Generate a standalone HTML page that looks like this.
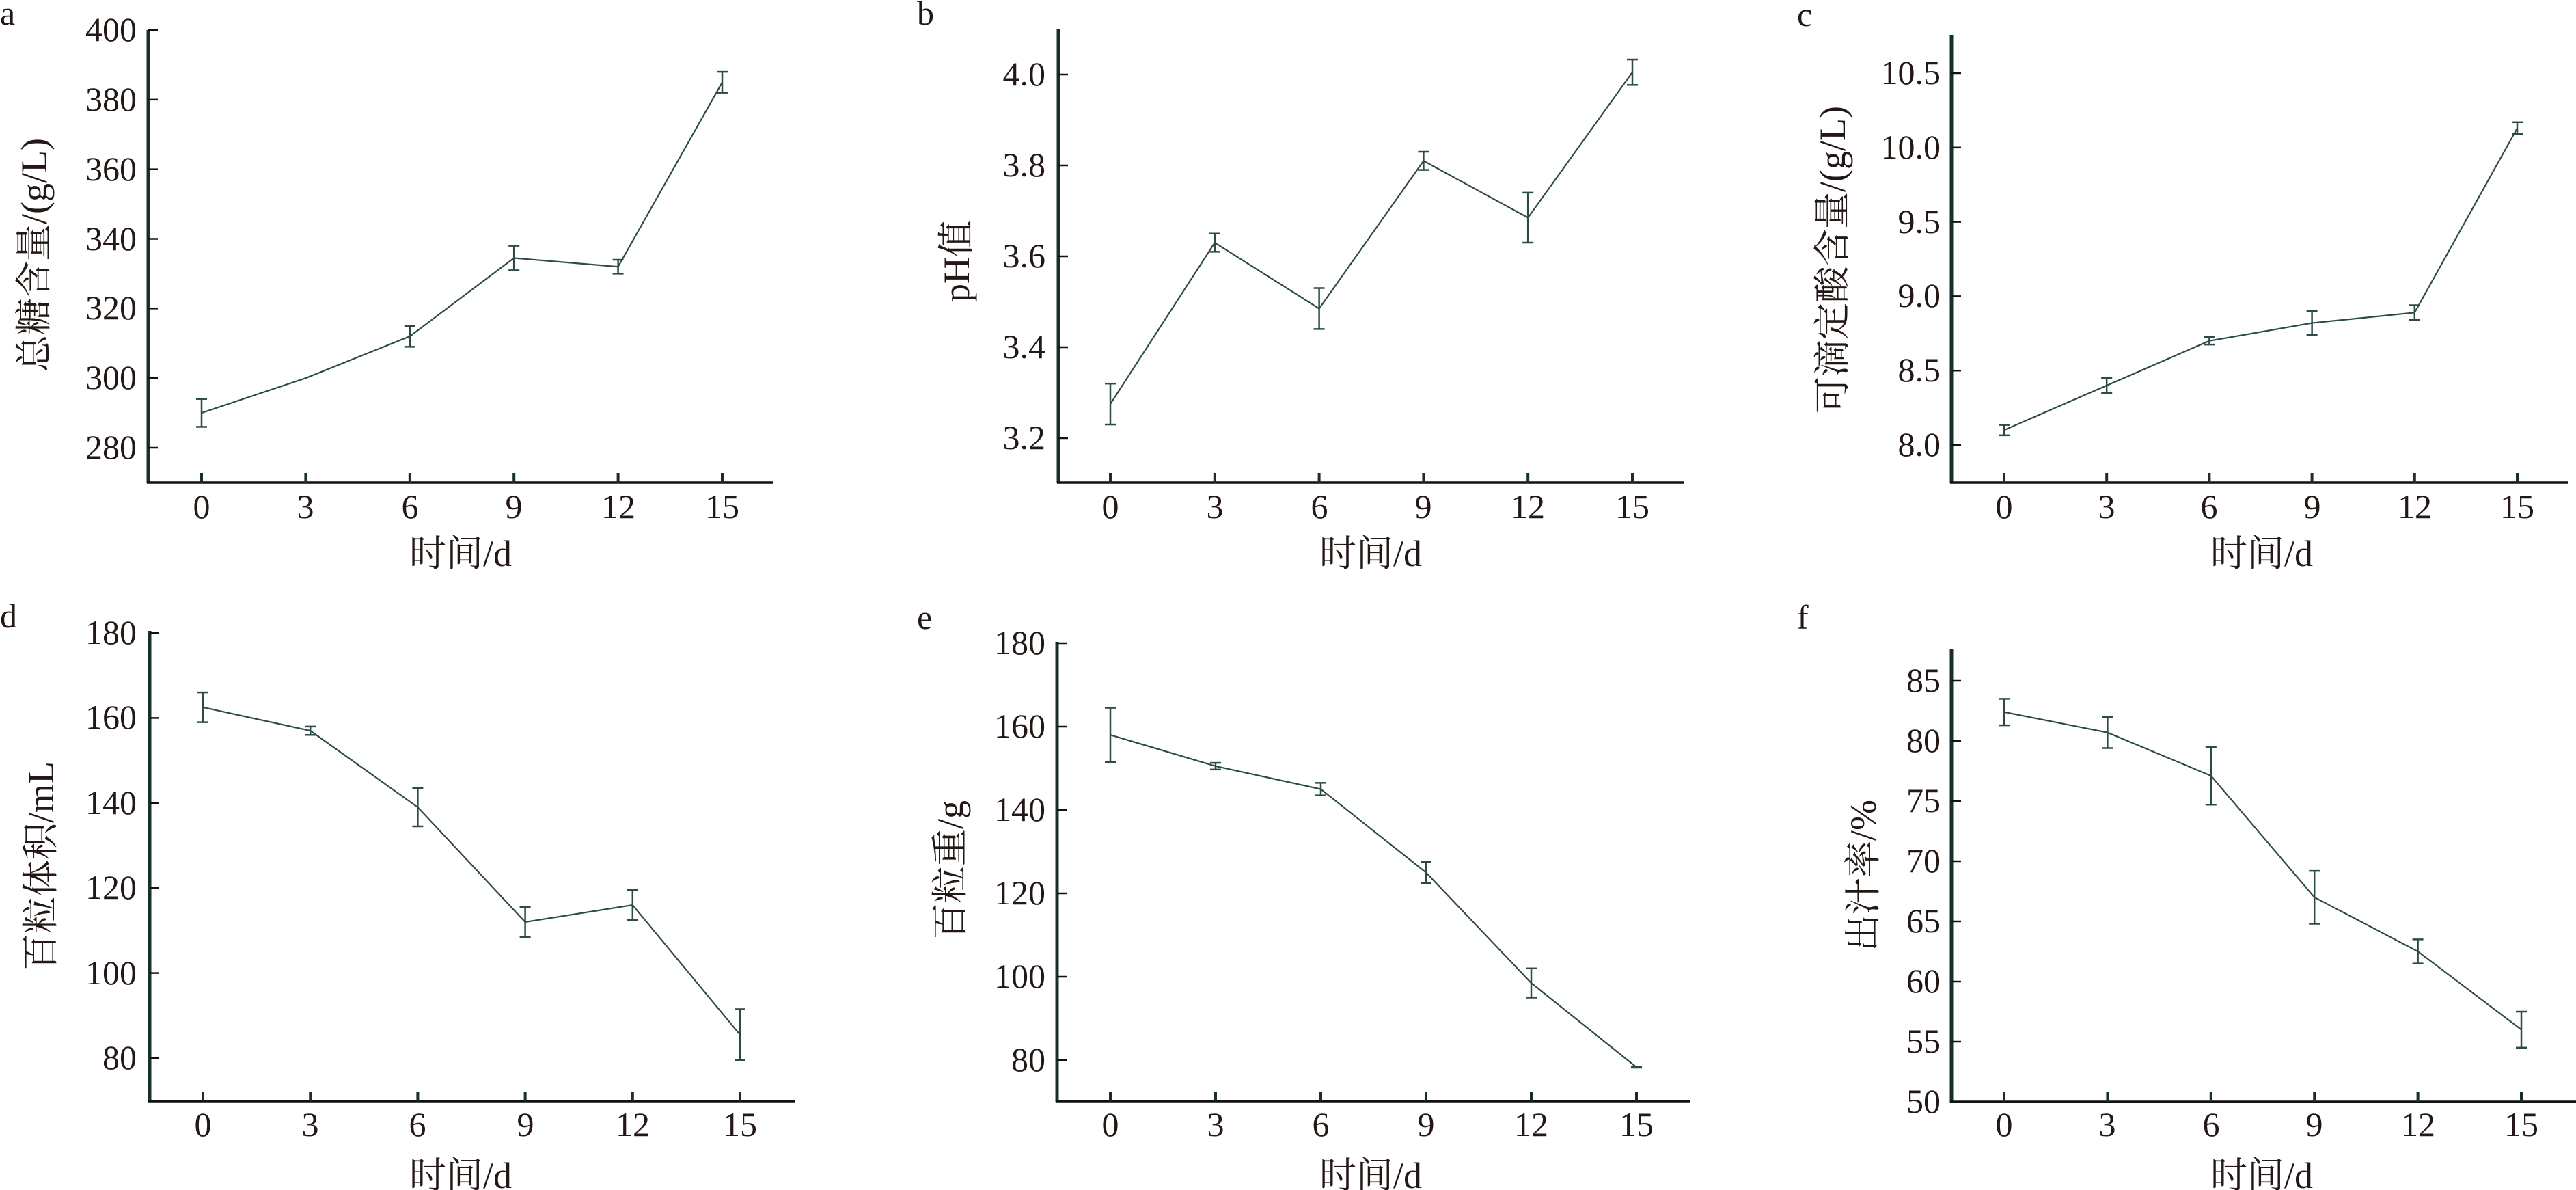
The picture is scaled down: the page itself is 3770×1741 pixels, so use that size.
<!DOCTYPE html>
<html><head><meta charset="utf-8"><style>
html,body{margin:0;padding:0;background:#fff;}
svg{display:block;}
text{font-family:"Liberation Serif","Noto Serif CJK SC",serif;fill:#231815;}
.t{font-size:50px;}
.tl{font-size:50px;text-anchor:end;}
.tx{font-size:50px;text-anchor:middle;}
.lab{font-size:54px;text-anchor:middle;}
.pl{font-size:50px;}
</style></head><body>
<svg id="s" width="3770" height="1741" viewBox="0 0 3770 1741" xmlns="http://www.w3.org/2000/svg">
<g id="g"></g>
<!-- panel letters -->
<text class="pl" x="0" y="36">a</text>
<text class="pl" x="1342" y="36">b</text>
<text class="pl" x="2630" y="38">c</text>
<text class="pl" x="0" y="918">d</text>
<text class="pl" x="1342" y="920">e</text>
<text class="pl" x="2630" y="920">f</text>

<!-- a ticks -->
<text class="tl" x="200" y="60">400</text>
<text class="tl" x="200" y="162">380</text>
<text class="tl" x="200" y="264">360</text>
<text class="tl" x="200" y="366">340</text>
<text class="tl" x="200" y="467">320</text>
<text class="tl" x="200" y="569">300</text>
<text class="tl" x="200" y="671">280</text>
<text class="tx" x="295" y="758">0</text><text class="tx" x="447" y="758">3</text><text class="tx" x="600" y="758">6</text><text class="tx" x="752" y="758">9</text><text class="tx" x="905" y="758">12</text><text class="tx" x="1057" y="758">15</text>
<text class="lab" x="674" y="828">时间/d</text>
<text class="lab" transform="translate(68,373) rotate(-90)">总糖含量/(g/L)</text>

<!-- b ticks -->
<text class="tl" x="1530" y="125">4.0</text>
<text class="tl" x="1530" y="258">3.8</text>
<text class="tl" x="1530" y="391">3.6</text>
<text class="tl" x="1530" y="524">3.4</text>
<text class="tl" x="1530" y="657">3.2</text>
<text class="tx" x="1625" y="758">0</text><text class="tx" x="1778" y="758">3</text><text class="tx" x="1931" y="758">6</text><text class="tx" x="2083" y="758">9</text><text class="tx" x="2236" y="758">12</text><text class="tx" x="2389" y="758">15</text>
<text class="lab" x="2006" y="828">时间/d</text>
<text class="lab" transform="translate(1418,382) rotate(-90)">pH值</text>

<!-- c ticks -->
<text class="tl" x="2840" y="123">10.5</text>
<text class="tl" x="2840" y="232">10.0</text>
<text class="tl" x="2840" y="341">9.5</text>
<text class="tl" x="2840" y="449">9.0</text>
<text class="tl" x="2840" y="558">8.5</text>
<text class="tl" x="2840" y="667">8.0</text>
<text class="tx" x="2933" y="758">0</text><text class="tx" x="3083" y="758">3</text><text class="tx" x="3233" y="758">6</text><text class="tx" x="3384" y="758">9</text><text class="tx" x="3534" y="758">12</text><text class="tx" x="3684" y="758">15</text>
<text class="lab" x="3310" y="828">时间/d</text>
<text class="lab" transform="translate(2700,380) rotate(-90)">可滴定酸含量/(g/L)</text>

<!-- d ticks -->
<text class="tl" x="200" y="942">180</text>
<text class="tl" x="200" y="1066">160</text>
<text class="tl" x="200" y="1191">140</text>
<text class="tl" x="200" y="1315">120</text>
<text class="tl" x="200" y="1440">100</text>
<text class="tl" x="200" y="1564">80</text>
<text class="tx" x="297" y="1662">0</text><text class="tx" x="454" y="1662">3</text><text class="tx" x="611" y="1662">6</text><text class="tx" x="769" y="1662">9</text><text class="tx" x="926" y="1662">12</text><text class="tx" x="1083" y="1662">15</text>
<text class="lab" x="674" y="1738">时间/d</text>
<text class="lab" transform="translate(78,1267) rotate(-90)">百粒体积/mL</text>

<!-- e ticks -->
<text class="tl" x="1530" y="957">180</text>
<text class="tl" x="1530" y="1079">160</text>
<text class="tl" x="1530" y="1201">140</text>
<text class="tl" x="1530" y="1323">120</text>
<text class="tl" x="1530" y="1445">100</text>
<text class="tl" x="1530" y="1567">80</text>
<text class="tx" x="1625" y="1662">0</text><text class="tx" x="1779" y="1662">3</text><text class="tx" x="1933" y="1662">6</text><text class="tx" x="2087" y="1662">9</text><text class="tx" x="2241" y="1662">12</text><text class="tx" x="2395" y="1662">15</text>
<text class="lab" x="2006" y="1738">时间/d</text>
<text class="lab" transform="translate(1409,1273) rotate(-90)">百粒重/g</text>

<!-- f ticks -->
<text class="tl" x="2840" y="1012">85</text>
<text class="tl" x="2840" y="1100">80</text>
<text class="tl" x="2840" y="1188">75</text>
<text class="tl" x="2840" y="1276">70</text>
<text class="tl" x="2840" y="1364">65</text>
<text class="tl" x="2840" y="1452">60</text>
<text class="tl" x="2840" y="1540">55</text>
<text class="tl" x="2840" y="1628">50</text>
<text class="tx" x="2933" y="1662">0</text><text class="tx" x="3084" y="1662">3</text><text class="tx" x="3236" y="1662">6</text><text class="tx" x="3387" y="1662">9</text><text class="tx" x="3539" y="1662">12</text><text class="tx" x="3690" y="1662">15</text>
<text class="lab" x="3310" y="1738">时间/d</text>
<text class="lab" transform="translate(2745,1281) rotate(-90)">出汁率/%</text>
</svg>
<script>
var P=[
{ax:217,top:44,xa:706,right:1132,x0:295,x15:1057,v1:400,y1:44,v2:280,y2:655,ticks:[280,300,320,340,360,380,400],
 d:[[290,4],[300,0],[312,3],[334.5,3.5],[332,2],[385,3]]},
{ax:1549,top:42,xa:706,right:2464,x0:1625,x15:2389,v1:4.0,y1:109,v2:3.2,y2:641,ticks:[3.2,3.4,3.6,3.8,4.0],
 d:[[3.275,0.045],[3.63,0.02],[3.485,0.045],[3.81,0.02],[3.685,0.055],[4.005,0.028]]},
{ax:2856,top:51,xa:706,right:3759,x0:2933,x15:3684,v1:10.5,y1:107,v2:8.0,y2:651,ticks:[8,8.5,9,9.5,10,10.5],
 d:[[8.1,0.035],[8.4,0.05],[8.7,0.025],[8.82,0.08],[8.89,0.05],[10.13,0.04]]},
{ax:219,top:923,xa:1611,right:1164,x0:297,x15:1083,v1:180,y1:926,v2:80,y2:1548,ticks:[80,100,120,140,160,180],
 d:[[162.5,3.5],[157,1],[139,4.5],[112,3.5],[116,3.5],[85.5,6]]},
{ax:1547,top:939,xa:1611,right:2473,x0:1625,x15:2395,v1:180,y1:941,v2:80,y2:1551,ticks:[80,100,120,140,160,180],
 d:[[158,6.5],[150.5,0.8],[145,1.5],[125,2.5],[98.5,3.5],[78.3,0.1]]},
{ax:2856,top:950,xa:1612,right:3770,x0:2933,x15:3690,v1:85,y1:996,v2:50,y2:1612,ticks:[55,60,65,70,75,80,85],
 d:[[82.4,1.1],[80.7,1.3],[77.1,2.4],[67,2.2],[62.5,1],[56,1.5]]}
];
var ns="http://www.w3.org/2000/svg",g=document.getElementById("g");
function el(t,a){var e=document.createElementNS(ns,t);for(var k in a)e.setAttribute(k,a[k]);g.appendChild(e);return e;}
var LC="#2c4a48",AC="#17302e";
P.forEach(function(p){
 function Y(v){return p.y1+(v-p.v1)*(p.y2-p.y1)/(p.v2-p.v1);}
 function X(i){return p.x0+i*(p.x15-p.x0)/5;}
 el("line",{x1:p.ax,y1:p.top,x2:p.ax,y2:p.xa+1,stroke:AC,"stroke-width":5});
 el("line",{x1:p.ax-2,y1:p.xa,x2:p.right,y2:p.xa,stroke:"#111",  "stroke-width":3.5});
 p.ticks.forEach(function(v){var y=Y(v);el("line",{x1:p.ax,y1:y,x2:p.ax+14,y2:y,stroke:"#111","stroke-width":2.5});});
 for(var i=0;i<6;i++){var x=X(i);el("line",{x1:x,y1:p.xa-14,x2:x,y2:p.xa,stroke:AC,"stroke-width":4});}
 var pts=p.d.map(function(d,i){return X(i)+","+Y(d[0]);}).join(" ");
 el("polyline",{points:pts,fill:"none",stroke:LC,"stroke-width":2.2});
 p.d.forEach(function(d,i){if(d[1]<=0)return;var x=X(i),a=Y(d[0]+d[1]),b=Y(d[0]-d[1]);
  el("line",{x1:x,y1:a,x2:x,y2:b,stroke:LC,"stroke-width":2.5});
  el("line",{x1:x-8,y1:a,x2:x+8,y2:a,stroke:LC,"stroke-width":2.5});
  el("line",{x1:x-8,y1:b,x2:x+8,y2:b,stroke:LC,"stroke-width":2.5});});
});
</script>
</body></html>
